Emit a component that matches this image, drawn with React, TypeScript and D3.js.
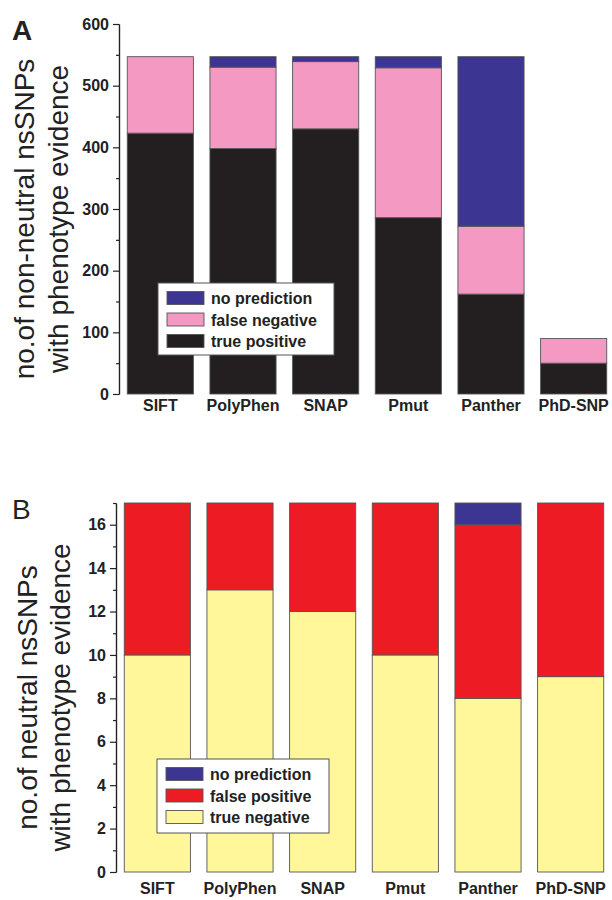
import React, { useRef, useEffect } from "react";
import * as d3 from "d3";

const tools = ["SIFT", "PolyPhen", "SNAP", "Pmut", "Panther", "PhD-SNP"];

// panel A: non-neutral nsSNPs
const truePositive = [423, 398, 430, 286, 162, 50];
const falseNegative = [124, 132, 109, 243, 110, 40];
const noPredictionA = [0, 17, 8, 18, 275, 0];

// panel B: neutral nsSNPs
const trueNegative = [10, 13, 12, 10, 8, 9];
const falsePositive = [7, 4, 5, 7, 8, 8];
const noPredictionB = [0, 0, 0, 0, 1, 0];

const FONT = "'Liberation Sans', Arial, Helvetica, sans-serif";

type Series = { key: string; label: string; color: string; values: number[] };

type PanelProps = {
  letter: string;
  letterBold: boolean;
  letterY: number;
  title: string[];
  titleX: number[];
  series: Series[]; // bottom -> top
  yMax: number;
  majorStep: number;
  minorStep: number;
  yTop: number;
  yBottom: number;
  xRange: [number, number];
  labelY: number;
  legend: { x: number; y: number; w: number; h: number };
};

function Panel(p: PanelProps) {
  const axisRef = useRef<SVGGElement>(null);

  const y = d3.scaleLinear().domain([0, p.yMax]).range([p.yBottom, p.yTop]);
  const x = d3.scaleBand<string>().domain(tools).range(p.xRange).paddingInner(0.2).paddingOuter(0.1);

  const stack = d3
    .stack<number>()
    .keys(p.series.map((s) => s.key))
    .value((i, key) => p.series.find((s) => s.key === key)!.values[i]);
  const layers = stack(tools.map((_, i) => i));

  useEffect(() => {
    const g = d3.select(axisRef.current);
    g.selectAll("*").remove();
    const major = d3.range(0, p.yMax + 0.001, p.majorStep);
    const minor = d3.range(0, p.yMax + 0.001, p.minorStep).filter((v) => !major.includes(v));
    const axisMinor = d3.axisLeft(y).tickValues(minor).tickSize(3).tickSizeOuter(0).tickFormat(() => "");
    const axisMajor = d3.axisLeft(y).tickValues(major).tickSize(6).tickSizeOuter(0).tickPadding(4);
    g.append("g").call(axisMinor);
    g.append("g").call(axisMajor);
    g.selectAll("path, line").attr("stroke", "#222").attr("stroke-width", 1.2);
    g.selectAll("text")
      .attr("font-family", FONT)
      .attr("font-size", 16)
      .attr("font-weight", "bold")
      .attr("fill", "#222");
  }, []);

  const titleMid = (p.yTop + p.yBottom) / 2 + 10;

  return (
    <g>
      {layers.map((layer, li) => (
        <g key={layer.key}>
          {layer.map((d, i) =>
            d[1] - d[0] > 0 ? (
              <rect
                key={i}
                x={x(tools[i])}
                y={y(d[1])}
                width={x.bandwidth()}
                height={y(d[0]) - y(d[1])}
                fill={p.series[li].color}
                stroke="#555"
                strokeWidth={0.9}
              />
            ) : null
          )}
        </g>
      ))}

      <g ref={axisRef} transform={`translate(${p.xRange[0]},0)`} />

      {tools.map((t) => (
        <text
          key={t}
          x={x(t)! + x.bandwidth() / 2}
          y={p.labelY}
          textAnchor="middle"
          fontFamily={FONT}
          fontSize={16}
          fontWeight="bold"
          fill="#222"
        >
          {t}
        </text>
      ))}

      {p.title.map((line, i) => (
        <text
          key={line}
          transform={`translate(${p.titleX[i]},${titleMid}) rotate(-90)`}
          textAnchor="middle"
          fontFamily={FONT}
          fontSize={28}
          fill="#222"
        >
          {line}
        </text>
      ))}

      <text
        x={12}
        y={p.letterY}
        fontFamily={FONT}
        fontSize={28}
        fontWeight={p.letterBold ? "bold" : "normal"}
        fill="#222"
      >
        {p.letter}
      </text>

      <g transform={`translate(${p.legend.x},${p.legend.y})`}>
        <rect width={p.legend.w} height={p.legend.h} fill="#fff" stroke="#555" strokeWidth={1} />
        {[...p.series].reverse().map((s, i) => (
          <g key={s.key} transform={`translate(0,${15 + i * 21.5})`}>
            <rect x={9} y={-6.5} width={37} height={13} fill={s.color} stroke="#555" strokeWidth={0.9} />
            <text x={53} y={6} fontFamily={FONT} fontSize={16} fontWeight="bold" fill="#222">
              {s.label}
            </text>
          </g>
        ))}
      </g>
    </g>
  );
}

export default function App() {
  return (
    <svg width={612} height={900} style={{ position: "absolute", left: 0, top: 0, background: "#fff" }}>
      <Panel
        letter="A"
        letterBold={true}
        letterY={40}
        title={["no.of non-neutral nsSNPs", "with phenotype evidence"]}
        titleX={[34, 68]}
        series={[
          { key: "tp", label: "true positive", color: "#231f20", values: truePositive },
          { key: "fn", label: "false negative", color: "#f49ac2", values: falseNegative },
          { key: "np", label: "no prediction", color: "#3d3592", values: noPredictionA },
        ]}
        yMax={600}
        majorStep={100}
        minorStep={50}
        yTop={24}
        yBottom={394}
        xRange={[119, 615]}
        labelY={411}
        legend={{ x: 158, y: 283, w: 176, h: 72 }}
      />
      <Panel
        letter="B"
        letterBold={false}
        letterY={519}
        title={["no.of neutral nsSNPs", "with phenotype evidence"]}
        titleX={[37, 70]}
        series={[
          { key: "tn", label: "true negative", color: "#fff799", values: trueNegative },
          { key: "fp", label: "false positive", color: "#ed1c24", values: falsePositive },
          { key: "np", label: "no prediction", color: "#3d3592", values: noPredictionB },
        ]}
        yMax={17}
        majorStep={2}
        minorStep={1}
        yTop={503}
        yBottom={872}
        xRange={[116, 612]}
        labelY={894}
        legend={{ x: 157, y: 759, w: 172, h: 74 }}
      />
    </svg>
  );
}
